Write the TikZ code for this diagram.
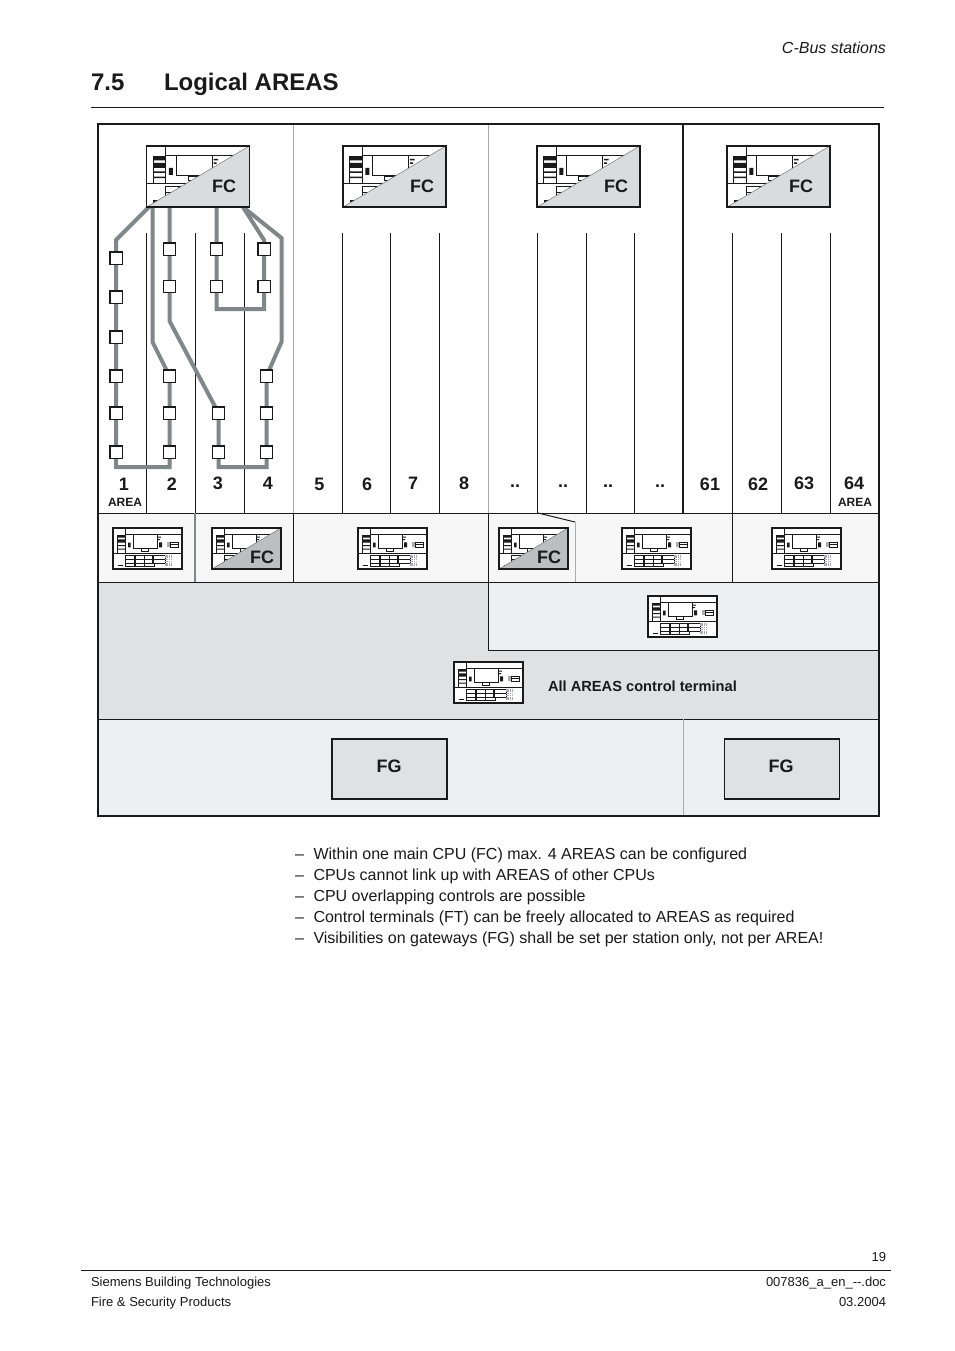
\documentclass[tikz,border=0pt]{standalone}
\usepackage{fontspec}
\setmainfont{Liberation Sans}
\definecolor{ink}{HTML}{1A1A1A}
\definecolor{loop}{HTML}{7F8789}
\definecolor{sep}{HTML}{A9ABAE}
\definecolor{rowa}{HTML}{F6F6F7}
\definecolor{rowb}{HTML}{EEEFF1}
\definecolor{rowc}{HTML}{E0E1E3}
\definecolor{wedgea}{HTML}{DADBDC}
\definecolor{wedgeb}{HTML}{BCBEC0}
\tikzset{
  x=1pt,y=-1pt,
  every node/.style={inner sep=0pt,outer sep=0pt,text=ink},
  thinline/.style={draw=ink,line width=0.8pt},
  sepline/.style={draw=sep,line width=1pt},
  darkline/.style={draw=ink,line width=1pt},
  loopline/.style={draw=loop,line width=4pt,line join=miter},
  sq/.style={draw=ink,fill=white,line width=1.4pt,minimum size=12.4pt},
  num/.style={font=\fontsize{18}{20}\bfseries\selectfont},
  arealab/.style={font=\fontsize{12}{14}\bfseries\selectfont},
  fc/.style={font=\fontsize{18}{20}\bfseries\selectfont},
  body/.style={font=\fontsize{16}{18}\selectfont,anchor=base west},
  foot/.style={font=\fontsize{13}{15}\selectfont},
  panel/.pic={
    \draw[ink,fill=white,line width=1.5pt] (0,0) rectangle (69,41);
    \draw[ink,line width=0.8pt] (12.7,0) -- (12.7,25) (0,25) -- (69,25) (12.7,6.6) -- (69,6.6);
    \draw[ink,line width=0.8pt] (20,6.6) rectangle (44,20);
    \draw[ink,line width=0.7pt] (4.5,7) rectangle (12.7,25);
    \fill[ink] (4.5,7) rectangle (12.7,9.6) (4.5,11.4) rectangle (12.7,14.6) (4.5,17) rectangle (12.7,18) (4.5,20.5) rectangle (12.7,21.5);
    \fill[ink] (15,14.6) rectangle (17.7,19.3) (46,14.3) rectangle (49,19.3) (45,8.7) rectangle (48,9.7) (45,11) rectangle (47,12);
    \fill[sep] (53.7,14) rectangle (56.7,19);
    \draw[ink,line width=0.7pt] (57.3,14) rectangle (65,19) (57.3,16.5) -- (65,16.5);
    \draw[ink,line width=0.4pt] (27.7,20.5) rectangle (35,23);
    \draw[ink,line width=0.8pt] (12.7,27) rectangle (52,35) (12.7,35) rectangle (41,38);
    \draw[ink,line width=1.6pt] (22,27) -- (22,38) (31.5,27) -- (31.5,38) (40,27) -- (40,35);
    \draw[ink,line width=0.7pt] (12.7,31) -- (52,31) (12.7,35) -- (41,35);
    \fill[ink] (4.5,36.5) rectangle (10,38);
    \foreach \dx in {52.4,54.2,56,57.8}{
      \foreach \dy in {27.4,29.2,31,32.8,34.6,36.4}{
        \fill[sep] (\dx,\dy) rectangle ++(1.1,1.1);
      }
    }
  },
  wedge/.pic={
    \draw[ink!60,fill=#1,line width=0.5pt] (0,41) -- (69,0) -- (69,41) -- cycle;
    \draw[ink,line width=1.5pt] (0,0) rectangle (69,41);
  },
}
\begin{document}
\begin{tikzpicture}
\useasboundingbox (0,0) rectangle (954,1351);
\fill[white] (0,0) rectangle (954,1351);
% header
\node[font=\fontsize{16}{18}\itshape\selectfont,anchor=base east] (hdr) at (886,53.5) {C-Bus stations};
\node[font=\fontsize{24}{28}\bfseries\selectfont,anchor=base west] (secn) at (91,91) {7.5};
\node[font=\fontsize{24}{28}\bfseries\selectfont,anchor=base west] (sect) at (164,91) {Logical AREAS};
\draw[ink,line width=0.8pt] (91,107.5) -- (884,107.5);
% row backgrounds
\fill[rowa] (98,513) rectangle (879,582);
\fill[rowc] (98,582) rectangle (488,650);
\fill[rowb] (488,582) rectangle (879,650);
\fill[rowc] (98,650) rectangle (879,719);
\fill[rowb] (98,719) rectangle (879,816);
% separators upper
\draw[sepline] (293.5,124) -- (293.5,513);
\draw[sepline] (488,124) -- (488,513);
\draw[ink,line width=1.6pt] (683,124) -- (683,513);
\foreach \xx in {146.5,195,244.5,342.5,390.5,439.5,537.5,586.5,634.5,732,781.5,830.5}{
  \draw[thinline] (\xx,233) -- (\xx,513);
}
% row lines
\draw[darkline] (98,513) -- (879,513);
\draw[darkline] (98,582.5) -- (879,582.5);
\draw[draw=loop,line width=1.2pt] (195,513) -- (195,582);
\draw[darkline] (293.5,513) -- (293.5,582);
\draw[darkline] (488,513) -- (488,650.5);
\draw[darkline] (488,650.5) -- (879,650.5);
\draw[darkline] (732,513) -- (732,582);
\draw[darkline] (538,513) -- (575,522);
\draw[sepline] (575,522) -- (575,582);
\draw[ink,line width=1.2pt] (98,719.5) -- (879,719.5);
\draw[sepline] (683.5,719) -- (683.5,816);
% frame
\draw[ink,line width=2.4pt] (98,124) rectangle (879,816);
% square nodes
\foreach \nm/\xx/\yy in {
 a1/116/258,a2/116/297,a3/116/337,a4/116/376,a5/116/413,a6/116/452,
 b1/169.5/249,b2/169.5/286.5,b3/169.5/376,b4/169.5/413,b5/169.5/452,
 c1/216.5/249,c2/216.5/286.5,c3/218.5/413,c4/218.5/452,
 d1/264/249,d2/264/286.5,d3/266.5/376,d4/266.5/413,d5/266.5/452}{
  \coordinate (\nm) at (\xx,\yy);
}
% loops
\draw[loopline] (149,207) -- (116,240) -- (a1) -- (a6) -- (116,467) -- (169.5,467) -- (b5) -- (b3) -- (152.5,342) -- (152.5,207);
\draw[loopline] (169.5,207) -- (b1) -- (b2) -- (169.5,321) -- (c3) -- (c4) -- (218.5,467) -- (266.5,467) -- (d5) -- (d3) -- (281.5,342) -- (281.5,238) -- (243,207);
\draw[loopline] (216.5,207) -- (c1) -- (c2) -- (216.5,309) -- (264,309) -- (d2) -- (d1) -- (264,240) -- (243,207);
\foreach \nm in {a1,a2,a3,a4,a5,a6,b1,b2,b3,b4,b5,c1,c2,c3,c4,d1,d2,d3,d4,d5}{
  \node[sq] (s\nm) at (\nm) {};
}
% big panels
\foreach \xx/\fx in {146.5/224,343/422,537/616,727/801}{
  \pic[scale=1.49] at (\xx,146) {panel};
  \pic[scale=1.49] at (\xx,146) {wedge=wedgea};
  \node[fc] at (\fx,186) {FC};
}
% small panels
\foreach \xx/\yy in {113/528,212/528,358/528,499/528,622/528,772/528,648/596,454/662}{
  \pic at (\xx,\yy) {panel};
}
\pic at (212,528) {wedge=wedgeb};
\pic at (499,528) {wedge=wedgeb};
\node[fc] (fcs1) at (262,557) {FC};
\node[fc] (fcs2) at (549,557) {FC};
% numbers
\foreach \xx/\yy/\tt in {124/484/1,172/484/2,218/483/3,268/483/4,319.5/484/5,367/484/6,413/483/7,464/483/8,515/486/..,563/486/..,608/486/..,660/486/..,710/484/61,758/484/62,804/483/63,854/483/64}{
  \node[num] at (\xx,\yy) {\tt};
}
\node[arealab] (ar1) at (125,502) {AREA};
\node[arealab] (ar2) at (855,502) {AREA};
\node[font=\fontsize{14.65}{16}\bfseries\selectfont,anchor=west] (allareas) at (548,686) {All AREAS control terminal};
% FG
\node[draw=ink,fill=rowc,line width=1.1pt,minimum width=115pt,minimum height=60pt] (fg1) at (389.5,769) {};
\node[draw=ink,fill=rowc,line width=1.1pt,minimum width=115pt,minimum height=60pt] (fg2) at (782,769) {};
\node[fc] (fg1t) at (389,766.5) {FG};
\node[fc] (fg2t) at (781,766.5) {FG};
% list
\foreach \yy/\tt in {859/Within one main CPU (FC) max. 4 AREAS can be configured,880/CPUs cannot link up with AREAS of other CPUs,901/CPU overlapping controls are possible,922/Control terminals (FT) can be freely allocated to AREAS as required,943/{Visibilities on gateways (FG) shall be set per station only, not per AREA!}}{
  \node[body] at (295,\yy) {–};
  \node[body] at (313.5,\yy) {\tt};
}
% footer
\node[foot,anchor=base east] (pg) at (886,1261) {19};
\draw[ink,line width=0.8pt] (81,1270) -- (891,1270);
\node[foot,anchor=base west] (f1) at (91,1286) {Siemens Building Technologies};
\node[foot,anchor=base west] (f2) at (91,1306) {Fire \& Security Products};
\node[foot,anchor=base east] (f3) at (886,1286) {007836\_a\_en\_{-}{-}.doc};
\node[foot,anchor=base east] (f4) at (886,1306) {03.2004};
\end{tikzpicture}
\end{document}
